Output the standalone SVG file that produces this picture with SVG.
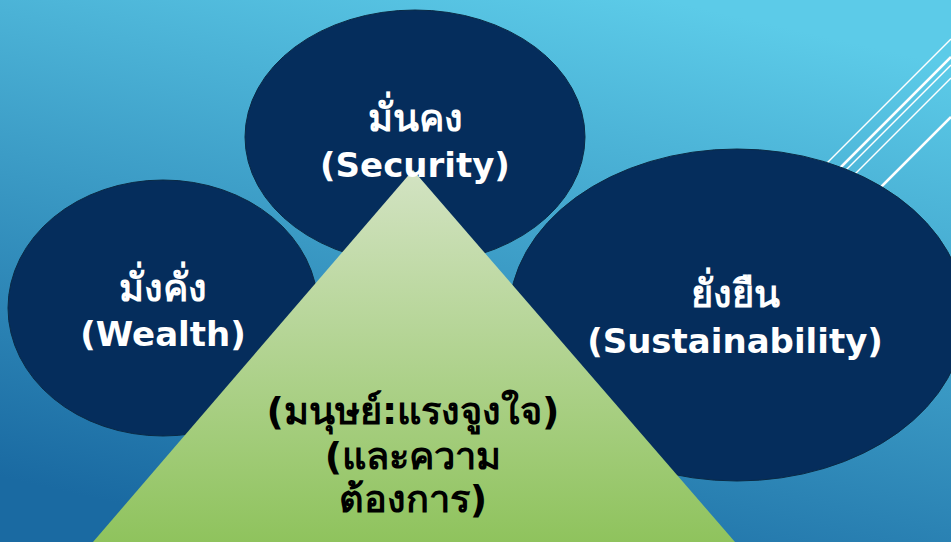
<svg xmlns="http://www.w3.org/2000/svg" width="951" height="542" viewBox="0 0 951 542">
<defs>
<linearGradient id="bg" x1="0.7" y1="0" x2="0.3" y2="1">
<stop offset="0" stop-color="#5ccbe8"/>
<stop offset="1" stop-color="#1a6aa2"/>
</linearGradient>
<linearGradient id="tri" x1="0" y1="0" x2="0" y2="1">
<stop offset="0" stop-color="#d3e3c3"/>
<stop offset="1" stop-color="#8fc35d"/>
</linearGradient>
</defs>
<style>
.node ellipse{fill:#052d5c;stroke:#0a2a45;stroke-width:1}
.lbl{font-family:"Tahoma","DejaVu Sans","Noto Sans",sans-serif;font-weight:bold;font-size:34px;text-anchor:middle}
.th{font-size:38px}
.w{fill:#ffffff}
.k{fill:#000000}
.deco line{stroke:#ffffff}
</style>
<rect x="0" y="0" width="951" height="542" fill="url(#bg)"/>
<g class="deco">
<line x1="778" y1="212" x2="951" y2="39" stroke-width="1.5"/>
<line x1="790" y1="218" x2="951" y2="57" stroke-width="2.5"/>
<line x1="795" y1="221" x2="951" y2="65" stroke-width="1.5"/>
<line x1="805" y1="224" x2="951" y2="78" stroke-width="1.5"/>
<line x1="830" y1="238" x2="951" y2="117" stroke-width="2.5"/>
</g>
<g id="security" class="node">
<ellipse cx="415" cy="137" rx="170" ry="127"/>
</g>
<g id="wealth" class="node">
<ellipse cx="163" cy="308" rx="155" ry="128"/>
</g>
<g id="sustainability" class="node">
<ellipse cx="737" cy="315" rx="228" ry="166"/>
</g>
<g id="human" class="node">
<polygon points="413,170 93,542 735,542" fill="url(#tri)"/>
</g>
<g id="labels">
<text class="lbl th w" x="415" y="131">มั่นคง</text>
<text class="lbl w" x="415" y="177">(Security)</text>
<text class="lbl th w" x="163" y="301">มั่งคั่ง</text>
<text class="lbl w" x="163" y="346">(Wealth)</text>
<text class="lbl th w" x="735" y="307">ยั่งยืน</text>
<text class="lbl w" x="735" y="353">(Sustainability)</text>
<text class="lbl th k" x="413" y="424">(มนุษย์:แรงจูงใจ)</text>
<text class="lbl th k" x="413" y="469">(และความ</text>
<text class="lbl th k" x="413" y="512">ต้องการ)</text>
</g>
</svg>
